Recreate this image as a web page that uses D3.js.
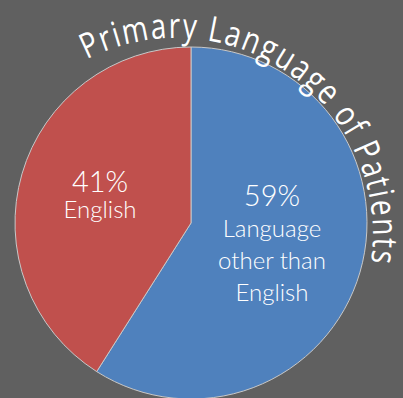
<!DOCTYPE html>
<html>
<head>
<meta charset="utf-8">
<script src="https://cdn.jsdelivr.net/npm/d3@7"></script>
<style>
  html, body { margin: 0; padding: 0; background: #606060; }
  svg { display: block; }
</style>
</head>
<body>
<svg id="chart" width="403" height="398"></svg>
<script>
// chart data
const categories = ['Language other than English', 'English'];
const shares = [59, 41];
const sliceColors = ['#4F81BD', '#C0504D'];
const labelLines = [['Language', 'other than', 'English'], ['English']];
const chartTitle = 'Primary Language of Patients';

const width = 403, height = 398;
const cx = 191, cy = 223, radius = 176;

const svg = d3.select('#chart');
svg.append('rect').attr('width', width).attr('height', height).attr('fill', '#606060');

const g = svg.append('g').attr('transform', `translate(${cx},${cy})`);

const pie = d3.pie().sort(null).value(d => d.value);
const arcs = pie(categories.map((c, i) => ({ name: c, value: shares[i], color: sliceColors[i], lines: labelLines[i] })));

const arc = d3.arc().innerRadius(0).outerRadius(radius);

g.selectAll('path.slice')
  .data(arcs)
  .enter()
  .append('path')
  .attr('class', 'slice')
  .attr('d', arc)
  .attr('fill', d => d.data.color)
  .attr('stroke', '#c8c8c8')
  .attr('stroke-width', 1);

// labels: nudged from the slice centroid, [dx, dy, gap under the percent]
const labelArc = d3.arc().innerRadius(radius * 0.55).outerRadius(radius * 0.55);
const labelOffsets = [[-12, -44, 31], [2, -4, 26]];
const lineStep = 32;

const labels = g.selectAll('g.label')
  .data(arcs)
  .enter()
  .append('g')
  .attr('class', 'label')
  .attr('transform', (d, i) => {
    const c = labelArc.centroid(d);
    return `translate(${c[0] + labelOffsets[i][0]},${c[1] + labelOffsets[i][1]})`;
  });

labels.append('text')
  .attr('text-anchor', 'middle')
  .attr('fill', '#ffffff')
  .style('font-family', 'Lato, "DejaVu Sans", sans-serif')
  .style('font-weight', 300)
  .style('font-size', '29px')
  .text(d => d.data.value + '%');

labels.each(function(d, i) {
  const sel = d3.select(this);
  d.data.lines.forEach((line, j) => {
    sel.append('text')
      .attr('text-anchor', 'middle')
      .attr('y', labelOffsets[i][2] + j * lineStep)
      .attr('fill', '#ffffff')
      .style('font-family', 'Lato, "DejaVu Sans", sans-serif')
      .style('font-weight', 300)
      .style('font-size', '24px')
      .text(line);
  });
});

// curved title: one glyph at a time, squeezed sideways so it reads condensed
const tcx = 176, tcy = 235, titleR = 197;
const a0 = -27 * Math.PI / 180, a1 = 98 * Math.PI / 180;
const arcLen = titleR * (a1 - a0);
const squeeze = 0.8;

const titleG = svg.append('g')
  .attr('fill', '#ffffff')
  .style('font-family', '"Open Sans", "DejaVu Sans", sans-serif')
  .style('font-size', '35px');

const chars = chartTitle.split('').map(c => c === ' ' ? '\u00A0' : c);
const glyphs = titleG.selectAll('text')
  .data(chars)
  .enter()
  .append('text')
  .attr('text-anchor', 'middle')
  .text(c => c);

// measure each glyph, squeeze it, then spread the row evenly over the arc
const widths = [];
glyphs.each(function() { widths.push(this.getComputedTextLength() * squeeze); });
const gap = (arcLen - d3.sum(widths)) / (chars.length - 1);

let run = 0;
glyphs.attr('transform', (c, i) => {
  const s = run + widths[i] / 2;
  run += widths[i] + gap;
  const a = a0 + s / titleR;
  const x = tcx + titleR * Math.sin(a);
  const y = tcy - titleR * Math.cos(a);
  return `translate(${x},${y}) rotate(${a * 180 / Math.PI}) scale(${squeeze},1)`;
});
</script>
</body>
</html>
